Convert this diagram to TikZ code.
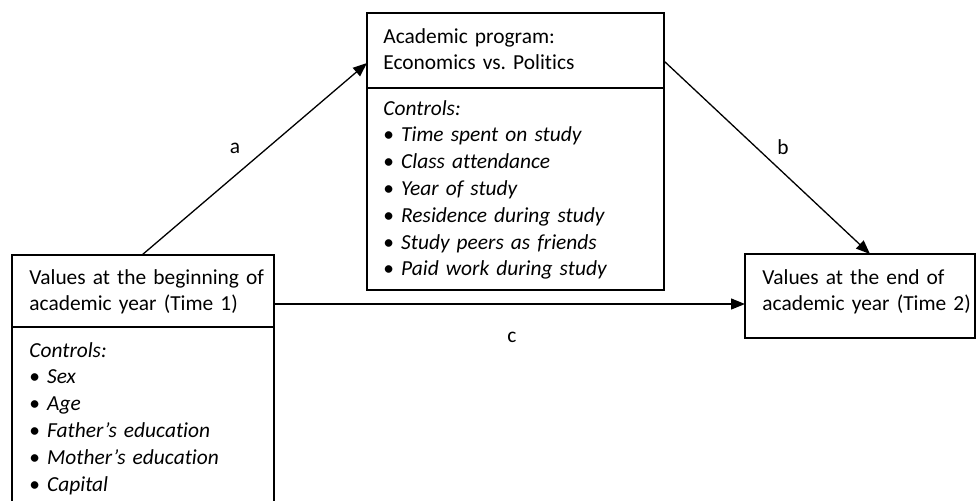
\documentclass[tikz,border=0pt]{standalone}
\usepackage{fontspec}
\setmainfont{Carlito}[RawFeature = {-liga}]
\usetikzlibrary{arrows.meta}
\frenchspacing

\begin{document}
\begin{tikzpicture}[x = 0.5pt, y = -0.5pt,
    box/.style = {draw, line width = 0.8pt, inner sep = 0pt, outer sep = 0pt, anchor = north west},
    txt/.style = {inner sep = 0pt, anchor = base west, align = left, text width = 160pt, font = \fontsize{10.7}{13.4}\selectfont},
    arr/.style = {line width = 0.65pt, -{Triangle[length = 7pt, width = 5.5pt]}},
    lbl/.style = {inner sep = 0pt, anchor = base, font = \fontsize{10.7}{13.4}\selectfont}]
  \useasboundingbox (0, 0) rectangle (976, 500);
  \clip (0, 0) rectangle (976, 500);

  \node [box, minimum width = 131pt, minimum height = 36pt] (T1) at (12, 255) {};
  \node [box, minimum width = 131pt, minimum height = 97pt] (C1) at (12, 327) {};
  \node [box, minimum width = 148.5pt, minimum height = 37.5pt] (P) at (367, 13) {};
  \node [box, minimum width = 148.5pt, minimum height = 101pt] (C2) at (367, 88) {};
  \node [box, minimum width = 115pt, minimum height = 42pt] (T2) at (745, 254) {};

  \node [txt] (T1t) at ([shift = {(8.5pt, -14.5pt)}] T1.north west) {Values at the beginning of\\academic year (Time 1)};
  \node [txt] (C1t) at ([shift = {(8.5pt, -15pt)}] C1.north west) {\textit{Controls:}\\
    \textbullet\ \textit{Sex}\\
    \textbullet\ \textit{Age}\\
    \textbullet\ \textit{Father’s education}\\
    \textbullet\ \textit{Mother’s education}\\
    \textbullet\ \textit{Capital}};
  \node [txt] (Pt) at ([shift = {(8pt, -15pt)}] P.north west) {Academic program:\\Economics vs. Politics};
  \node [txt] (C2t) at ([shift = {(8pt, -13.5pt)}] C2.north west) {\textit{Controls:}\\
    \textbullet\ \textit{Time spent on study}\\
    \textbullet\ \textit{Class attendance}\\
    \textbullet\ \textit{Year of study}\\
    \textbullet\ \textit{Residence during study}\\
    \textbullet\ \textit{Study peers as friends}\\
    \textbullet\ \textit{Paid work during study}};
  \node [txt] (T2t) at ([shift = {(8.5pt, -15pt)}] T2.north west) {Values at the end of\\academic year (Time 2)};

  \node [lbl] (la) at (235, 153) {a};
  \node [lbl] (lb) at (783, 154) {b};
  \node [lbl] (lc) at (512, 342) {c};

  \coordinate (c0) at ([yshift = -6.5pt] T1.east);

  \draw [arr] ([xshift = 65pt] T1.north west) -- ([yshift = -6.25pt] P.west);
  \draw [arr] ([yshift = -5.25pt] P.east) -- ([xshift = 5pt] T2.north);
  \draw [arr] (c0) -- (c0 -| T2.west);
\end{tikzpicture}
\end{document}
